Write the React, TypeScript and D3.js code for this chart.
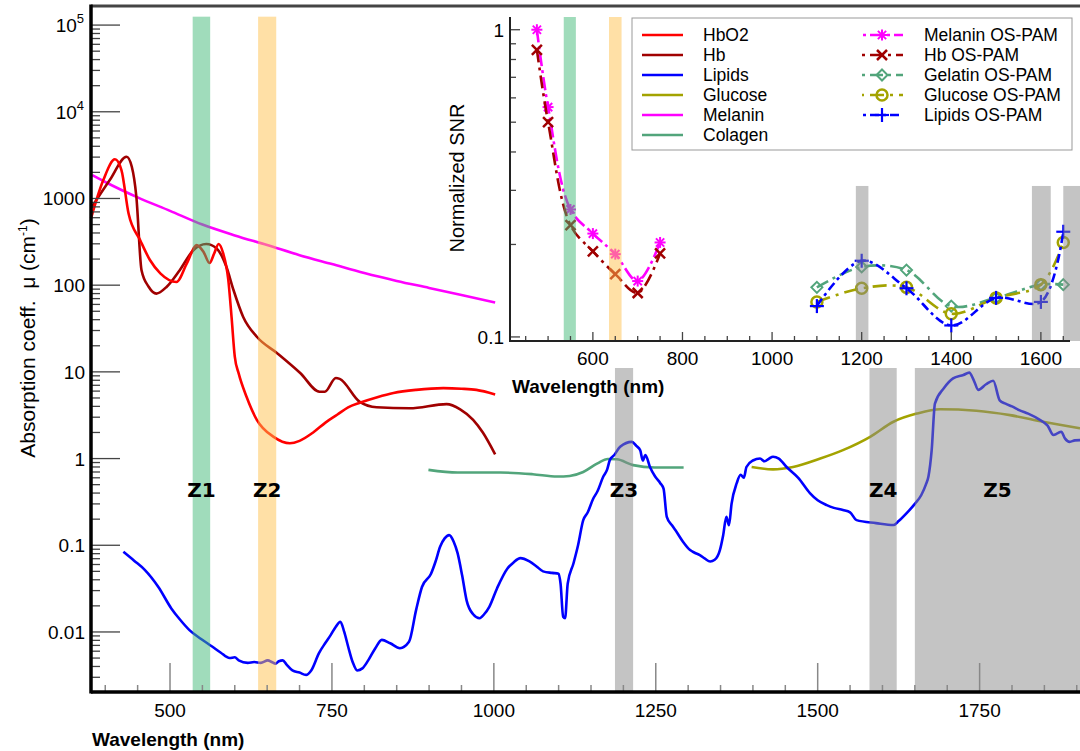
import React from 'react';
import * as d3 from 'd3';

type P = [number, number];

// ---------- Main chart data (wavelength nm, absorption cm^-1) ----------
const hbo2: P[] = [
  [378, 590], [397, 1630], [415, 2830], [425, 2130], [436, 670], [454, 330], [469, 195], [485, 137],
  [510, 109], [526, 178], [541, 290], [552, 240], [561, 180], [568, 230], [575, 298], [582, 234],
  [590, 115], [595, 43], [600, 15], [606, 9.6], [618, 5.2], [634, 2.8], [660, 1.78], [685, 1.5],
  [700, 1.6], [721, 2.0], [740, 2.6], [758, 3.2], [775, 3.9], [793, 4.4], [820, 5.1], [845, 5.7],
  [880, 6.2], [922, 6.5], [950, 6.4], [973, 6.2], [1002, 5.5],
];
const hb: P[] = [
  [378, 770], [407, 1630], [433, 3030], [441, 2320], [448, 1050], [456, 149], [467, 96], [479, 80],
  [495, 96], [515, 149], [536, 253], [556, 298], [572, 265], [587, 163], [598, 88], [613, 43],
  [634, 25.4], [665, 16.5], [701, 9.7], [731, 5.9], [739, 5.9], [756, 8.5], [762, 8.3], [793, 4.5],
  [819, 3.9], [870, 3.8], [927, 4.25], [948, 3.7], [968, 2.8], [983, 2.0], [1002, 1.12],
];
const melanin: P[] = [
  [380, 1860], [400, 1550], [450, 1030], [500, 720], [550, 500], [600, 375], [650, 290], [700, 222],
  [750, 175], [800, 138], [850, 112], [900, 93], [950, 77], [1002, 63],
];
const colagen: P[] = [
  [899, 0.74], [944, 0.69], [1010, 0.69], [1060, 0.66], [1098, 0.62], [1117, 0.63], [1138, 0.7],
  [1160, 0.88], [1176, 0.99], [1190, 0.98], [1215, 0.84], [1248, 0.79], [1293, 0.79],
];
const glucose: P[] = [
  [1398, 0.8], [1431, 0.75], [1462, 0.8], [1504, 1.0], [1539, 1.25], [1581, 1.78], [1617, 2.66],
  [1653, 3.3], [1689, 3.7], [1745, 3.56], [1797, 3.17], [1848, 2.66], [1905, 2.23],
];
const lipids: P[] = [
  [428, 0.084], [445, 0.066], [461, 0.052], [482, 0.033], [502, 0.0187], [515, 0.014], [530, 0.0105],
  [548, 0.0083], [565, 0.0068], [578, 0.0058], [592, 0.005], [600, 0.0051], [606, 0.0047], [620, 0.0044],
  [630, 0.0045], [640, 0.0044], [651, 0.0047], [657, 0.0045], [663, 0.0043], [668, 0.0046], [674, 0.0047],
  [680, 0.0042], [689, 0.0036], [700, 0.0034], [710, 0.0032], [718, 0.0036], [730, 0.0057], [740, 0.0075],
  [748, 0.0092], [756, 0.0115], [763, 0.0131], [769, 0.01], [775, 0.0068], [782, 0.0045], [789, 0.0036],
  [797, 0.0038], [806, 0.0047], [817, 0.0065], [827, 0.0081], [840, 0.0074], [855, 0.0065], [869, 0.0077],
  [880, 0.018], [889, 0.033], [903, 0.047], [910, 0.065], [917, 0.096], [924, 0.12], [931, 0.131],
  [938, 0.11], [944, 0.081], [951, 0.045], [958, 0.023], [968, 0.016], [978, 0.0144], [985, 0.016],
  [993, 0.0195], [1005, 0.032], [1021, 0.054], [1030, 0.063], [1041, 0.071], [1055, 0.065], [1066, 0.057],
  [1076, 0.05], [1090, 0.048], [1100, 0.047], [1103, 0.036], [1107, 0.015], [1110, 0.0144], [1114, 0.036],
  [1123, 0.062], [1130, 0.1], [1138, 0.195], [1145, 0.24], [1153, 0.34], [1160, 0.42], [1169, 0.62],
  [1175, 0.75], [1179, 0.96], [1186, 1.1], [1195, 1.37], [1213, 1.56], [1220, 1.4], [1226, 1.25],
  [1230, 0.95], [1234, 1.1], [1241, 0.8], [1249, 0.62], [1257, 0.52], [1262, 0.45], [1267, 0.213],
  [1275, 0.17], [1282, 0.143], [1292, 0.11], [1303, 0.088], [1310, 0.082], [1318, 0.077], [1326, 0.07],
  [1334, 0.065], [1341, 0.068], [1349, 0.088], [1354, 0.13], [1359, 0.213], [1363, 0.17], [1367, 0.3],
  [1375, 0.52], [1381, 0.65], [1386, 0.6], [1390, 0.8], [1400, 0.95], [1411, 1.0], [1418, 0.93],
  [1425, 1.0], [1431, 1.05], [1440, 1.0], [1452, 0.8], [1470, 0.6], [1488, 0.4], [1500, 0.33],
  [1514, 0.29], [1525, 0.27], [1539, 0.255], [1550, 0.24], [1560, 0.195], [1590, 0.18], [1617, 0.171],
  [1625, 0.19], [1637, 0.233], [1650, 0.3], [1660, 0.38], [1667, 0.5], [1671, 0.62], [1676, 1.25],
  [1681, 4.3], [1695, 6.5], [1709, 8.4], [1725, 9.2], [1734, 9.8], [1741, 8.0], [1748, 6.2], [1760, 7.2],
  [1771, 7.9], [1781, 4.7], [1790, 4.3], [1800, 4.0], [1812, 3.6], [1825, 3.3], [1843, 2.8], [1855, 2.4],
  [1864, 1.87], [1870, 1.95], [1876, 2.04], [1882, 1.7], [1889, 1.56], [1897, 1.62], [1905, 1.63],
];

const zoneNames = ['Z1', 'Z2', 'Z3', 'Z4', 'Z5'];
const zoneFrom = [535, 636, 1187, 1580, 1650];
const zoneTo = [562, 664, 1215, 1622, 1960];

const mainXTicks = [500, 750, 1000, 1250, 1500, 1750];
const mainYTicks = [0.01, 0.1, 1, 10, 100, 1000, 1e4, 1e5];
const mainYLabels = ['0.01', '0.1', '1', '10', '100', '1000', '10^4', '10^5'];

// ---------- Inset data (normalized SNR) ----------
const visX = [475, 500, 550, 600, 650, 700, 750];
const melaninPam = [1.0, 0.56, 0.26, 0.217, 0.186, 0.152, 0.203];
const hbPam = [0.86, 0.5, 0.231, 0.19, 0.16, 0.139, 0.187];
const nirX = [1100, 1200, 1300, 1400, 1500, 1600, 1650];
const gelatinPam = [0.145, 0.169, 0.165, 0.126, 0.134, 0.148, 0.148];
const glucosePam = [0.13, 0.144, 0.145, 0.119, 0.134, 0.148, 0.203];
const lipidsPam = [0.126, 0.177, 0.144, 0.109, 0.134, 0.13, 0.22];
const insetXTicks = [600, 800, 1000, 1200, 1400, 1600];
const insetYTicks = [1, 0.1];
const insetYLabels = ['1', '0.1'];

const legendLeft = ['HbO2', 'Hb', 'Lipids', 'Glucose', 'Melanin', 'Colagen'];
const legendRight = ['Melanin OS-PAM', 'Hb OS-PAM', 'Gelatin OS-PAM', 'Glucose OS-PAM', 'Lipids OS-PAM'];

// ---------- styles ----------
const C = {
  hbo2: '#ff0000', hb: '#a00000', lipids: '#0000ff', glucose: '#a3a300', melanin: '#ff00ff', colagen: '#52a57b',
};
const zoneFill = ['#41b977', '#ffc14d', '#898989', '#898989', '#898989'];
const FONT = 'Liberation Sans, Arial, Helvetica, sans-serif';

function Marker({ type, cx, cy, color }: { type: string; cx: number; cy: number; color: string }) {
  const s = 5.5;
  if (type === 'star') {
    return (
      <g stroke={color} strokeWidth={2}>
        <line x1={cx - s} y1={cy} x2={cx + s} y2={cy} />
        <line x1={cx} y1={cy - s} x2={cx} y2={cy + s} />
        <line x1={cx - s * 0.75} y1={cy - s * 0.75} x2={cx + s * 0.75} y2={cy + s * 0.75} />
        <line x1={cx - s * 0.75} y1={cy + s * 0.75} x2={cx + s * 0.75} y2={cy - s * 0.75} />
      </g>
    );
  }
  if (type === 'x') {
    return (
      <g stroke={color} strokeWidth={2.5}>
        <line x1={cx - 5} y1={cy - 5} x2={cx + 5} y2={cy + 5} />
        <line x1={cx - 5} y1={cy + 5} x2={cx + 5} y2={cy - 5} />
      </g>
    );
  }
  if (type === 'diamond') {
    return (
      <path d={`M${cx},${cy - 5.5}L${cx + 5.5},${cy}L${cx},${cy + 5.5}L${cx - 5.5},${cy}Z`} fill="none" stroke={color} strokeWidth={2} />
    );
  }
  if (type === 'circle') {
    return <circle cx={cx} cy={cy} r={5.5} fill="none" stroke={color} strokeWidth={2.5} />;
  }
  return (
    <g stroke={color} strokeWidth={2.2}>
      <line x1={cx - 7} y1={cy} x2={cx + 7} y2={cy} />
      <line x1={cx} y1={cy - 7} x2={cx} y2={cy + 7} />
    </g>
  );
}

export default function App() {
  const x = d3.scaleLinear().domain([378, 1905]).range([91, 1080]);
  const y = d3.scaleLog().domain([0.00203, 1.66e5]).range([692, 6]);
  const xi = d3.scaleLinear().domain([415, 1665]).range([510, 1070]);
  const yi = d3.scaleLog().domain([0.097, 1.1]).range([341, 17]);

  const smooth = d3.line<P>().x(d => x(d[0])).y(d => y(d[1])).curve(d3.curveMonotoneX);
  const ins = d3.line<P>().x(d => xi(d[0])).y(d => yi(d[1])).curve(d3.curveCatmullRom.alpha(0.5));

  const x0 = x.range()[0];
  const yBottom = y.range()[0];
  const yTop = y.range()[1];
  const bandTop = y(1.25e5);

  const minorX = d3.range(400, 1901, 50).filter(v => !mainXTicks.includes(v));
  const minorY: number[] = [];
  for (let e = -3; e <= 5; e++) for (let m = 2; m <= 9; m++) {
    const v = m * Math.pow(10, e);
    if (v > y.domain()[0] && v < y.domain()[1]) minorY.push(v);
  }
  const insMinorX = d3.range(450, 1651, 50).filter(v => !insetXTicks.includes(v));
  const insMinorY: number[] = [];
  for (let m = 2; m <= 9; m++) insMinorY.push(m / 10);
  const insGrayTop = yi(0.31);

  const insetSeries = [
    { xs: visX, ys: melaninPam, color: C.melanin, marker: 'star', dash: '13,4,3,4' },
    { xs: visX, ys: hbPam, color: C.hb, marker: 'x', dash: '13,5,3,5' },
    { xs: nirX, ys: gelatinPam, color: C.colagen, marker: 'diamond', dash: '13,5,3,5' },
    { xs: nirX, ys: glucosePam, color: C.glucose, marker: 'circle', dash: '14,6,3,6' },
    { xs: nirX, ys: lipidsPam, color: C.lipids, marker: 'plus', dash: '9,4,3,4' },
  ];
  const leftColors = [C.hbo2, C.hb, C.lipids, C.glucose, C.melanin, C.colagen];

  return (
    <div style={{ position: 'absolute', left: 0, top: 0 }}>
      <svg width={1080} height={751} style={{ display: 'block', background: '#fff' }} fontFamily={FONT}>
        {/* main curves */}
        <g fill="none" strokeWidth={2.6} strokeLinejoin="round">
          <path d={smooth(melanin) || ''} stroke={C.melanin} />
          <path d={smooth(hb) || ''} stroke={C.hb} />
          <path d={smooth(hbo2) || ''} stroke={C.hbo2} />
          <path d={smooth(colagen) || ''} stroke={C.colagen} />
          <path d={smooth(glucose) || ''} stroke={C.glucose} />
          <path d={smooth(lipids) || ''} stroke={C.lipids} />
        </g>
        {/* zone bands */}
        {zoneNames.map((z, i) => (
          <rect key={z} x={x(zoneFrom[i])} y={bandTop} width={x(zoneTo[i]) - x(zoneFrom[i])} height={yBottom - bandTop}
            fill={zoneFill[i]} fillOpacity={0.5} />
        ))}
        {zoneNames.map((z, i) => (
          <text key={'t' + z} x={(x(zoneFrom[i]) + Math.min(x(zoneTo[i]), 1080)) / 2} y={497} textAnchor="middle"
            fontFamily="DejaVu Sans, sans-serif" fontWeight="bold" fontSize={20}>{z}</text>
        ))}
        {/* main axes */}
        <g stroke="#888" strokeWidth={1.5}>
          {mainXTicks.map(t => <line key={t} x1={x(t)} x2={x(t)} y1={yBottom} y2={yBottom - 29} />)}
          {minorX.map(t => <line key={t} x1={x(t)} x2={x(t)} y1={yBottom} y2={yBottom - 7} />)}
        </g>
        <g stroke="#444" strokeWidth={1.3}>
          {mainYTicks.map(t => <line key={t} x1={x0} x2={x0 + 29} y1={y(t)} y2={y(t)} />)}
          {minorY.map(t => <line key={t} x1={x0} x2={x0 + 9} y1={y(t)} y2={y(t)} />)}
        </g>
        <line x1={x0} x2={1080} y1={yTop} y2={yTop} stroke="#444" strokeWidth={3} />
        <line x1={x0} x2={1080} y1={yBottom} y2={yBottom} stroke="#000" strokeWidth={3.5} />
        <line x1={x0} x2={x0} y1={yTop - 1.5} y2={yBottom + 1.5} stroke="#000" strokeWidth={3.5} />
        {mainXTicks.map(t => (
          <text key={t} x={x(t)} y={717} textAnchor="middle" fontSize={19}>{t}</text>
        ))}
        {mainYTicks.map((t, i) => {
          const lab = mainYLabels[i];
          if (lab.includes('^')) {
            const [b, e] = lab.split('^');
            return (
              <text key={t} x={84} y={y(t) + 7} textAnchor="end" fontSize={19}>{b}<tspan dy={-9} fontSize={13}>{e}</tspan></text>
            );
          }
          return <text key={t} x={85} y={y(t) + 7} textAnchor="end" fontSize={19}>{lab}</text>;
        })}
        <text transform="translate(35,338) rotate(-90)" textAnchor="middle" fontSize={21} style={{ whiteSpace: 'pre' }}>
          {'Absorption coeff.  \u03bc (cm'}<tspan dy={-8} fontSize={12}>-1</tspan><tspan dy={8}>)</tspan>
        </text>
        <text x={92} y={746} fontSize={19} fontWeight="bold">Wavelength (nm)</text>

        {/* inset background */}
        <rect x={505} y={9} width={575} height={359} fill="#fff" />
        {/* inset curves */}
        {insetSeries.map((s, i) => {
          const pts: P[] = s.xs.map((v, j) => [v, s.ys[j]]);
          return (
            <g key={i}>
              <path d={ins(pts) || ''} fill="none" stroke={s.color} strokeWidth={2.6} strokeDasharray={s.dash} />
              {pts.map((p, j) => <Marker key={j} type={s.marker} cx={xi(p[0])} cy={yi(p[1])} color={s.color} />)}
            </g>
          );
        })}
        {/* inset bands */}
        {zoneNames.map((z, i) => {
          const gray = i >= 2;
          const top = gray ? insGrayTop : yi.range()[1];
          return (
            <rect key={'ib' + z} x={xi(zoneFrom[i])} y={top} width={xi(Math.min(zoneTo[i], 1700)) - xi(zoneFrom[i])}
              height={yi.range()[0] - top} fill={zoneFill[i]} fillOpacity={0.5} />
          );
        })}
        {/* inset axes */}
        <g stroke="#444" strokeWidth={1.3}>
          {insetXTicks.map(t => <line key={t} x1={xi(t)} x2={xi(t)} y1={341} y2={332} />)}
          {insMinorX.map(t => <line key={t} x1={xi(t)} x2={xi(t)} y1={341} y2={336} />)}
          {insetYTicks.map(t => <line key={t} x1={510} x2={520} y1={yi(t)} y2={yi(t)} />)}
          {insMinorY.map(t => <line key={t} x1={510} x2={516} y1={yi(t)} y2={yi(t)} />)}
        </g>
        <line x1={510} x2={1070} y1={341} y2={341} stroke="#222" strokeWidth={2} />
        <line x1={510} x2={510} y1={17} y2={342} stroke="#222" strokeWidth={2} />
        {insetXTicks.map(t => (
          <text key={t} x={xi(t)} y={365} textAnchor="middle" fontSize={19}>{t}</text>
        ))}
        {insetYTicks.map((t, i) => (
          <text key={t} x={504} y={yi(t) + 7} textAnchor="end" fontSize={19}>{insetYLabels[i]}</text>
        ))}
        <text x={512} y={393} fontSize={19} fontWeight="bold">Wavelength (nm)</text>
        <text transform="translate(464,178) rotate(-90)" textAnchor="middle" fontSize={20}>Normalized SNR</text>

        {/* legend */}
        <rect x={632} y={18} width={440} height={132} fill="#fff" stroke="#999" strokeWidth={1} />
        {legendLeft.map((l, i) => (
          <g key={l}>
            <line x1={642} x2={683} y1={35 + i * 20} y2={35 + i * 20} stroke={leftColors[i]} strokeWidth={2.6} />
            <text x={703} y={41 + i * 20} fontSize={17.5}>{l}</text>
          </g>
        ))}
        {legendRight.map((l, i) => {
          const s = insetSeries[i];
          const yy = 35 + i * 20;
          return (
            <g key={l}>
              <line x1={862} x2={903} y1={yy} y2={yy} stroke={s.color} strokeWidth={2.6} strokeDasharray={s.dash} strokeDashoffset={-8} />
              <Marker type={s.marker} cx={882} cy={yy} color={s.color} />
              <text x={924} y={yy + 6} fontSize={17.5}>{l}</text>
            </g>
          );
        })}
      </svg>
    </div>
  );
}
